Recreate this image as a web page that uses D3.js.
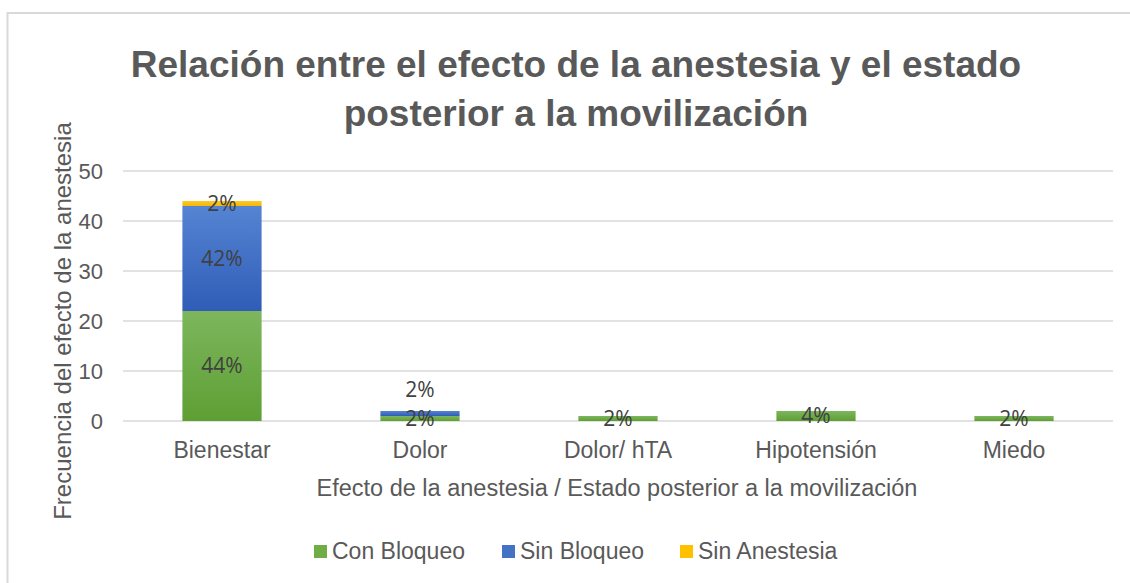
<!DOCTYPE html>
<html>
<head>
<meta charset="utf-8">
<script src="https://cdn.jsdelivr.net/npm/d3@7"></script>
<style>
  body { margin: 0; background: #fff; }
  text { font-family: "Liberation Sans", Arial, sans-serif; }
</style>
</head>
<body>
<div id="chart"></div>
<script>
// data (frequencies, n = 50)
var categories = ["Bienestar", "Dolor", "Dolor/ hTA", "Hipotensión", "Miedo"];
var seriesNames = ["Con Bloqueo", "Sin Bloqueo", "Sin Anestesia"];
var conBloqueo = [22, 1, 1, 2, 1];
var sinBloqueo = [21, 1, 0, 0, 0];
var sinAnestesia = [1, 0, 0, 0, 0];
var conLabels = ["44%", "2%", "2%", "4%", "2%"];
var sinBloqLabels = ["42%", "2%", "", "", ""];
var sinAnestLabels = ["2%", "", "", "", ""];
var yTicks = [0, 10, 20, 30, 40, 50];

var svgWidth = 1130, svgHeight = 583;
var margin = { top: 171, bottom: 162, left: 123, right: 17 };
var plotW = svgWidth - margin.left - margin.right;
var plotH = svgHeight - margin.top - margin.bottom;

var svg = d3.select("#chart").append("svg")
    .attr("width", svgWidth)
    .attr("height", svgHeight);

// gradients like the original office chart
var defs = svg.append("defs");
function grad(id, top, bottom) {
    var g = defs.append("linearGradient").attr("id", id)
        .attr("x1", 0).attr("y1", 0).attr("x2", 0).attr("y2", 1);
    g.append("stop").attr("offset", "0%").attr("stop-color", top);
    g.append("stop").attr("offset", "100%").attr("stop-color", bottom);
}
grad("gGreen", "#7db65d", "#5e9f34");
grad("gBlue", "#5584d3", "#2f5db7");
grad("gYellow", "#ffc72a", "#f5b800");

// chart frame
svg.append("rect")
    .attr("x", 7.5).attr("y", 13)
    .attr("width", 1140).attr("height", 600)
    .attr("fill", "none")
    .attr("stroke", "#d9d9d9")
    .attr("stroke-width", 2);

// title
var title = svg.append("text")
    .attr("text-anchor", "middle")
    .attr("font-size", 37)
    .attr("font-weight", "bold")
    .attr("fill", "#595959");
title.append("tspan").attr("x", 576).attr("y", 77)
    .text("Relación entre el efecto de la anestesia y el estado");
title.append("tspan").attr("x", 576).attr("y", 126)
    .text("posterior a la movilización");

var chartGroup = svg.append("g")
    .attr("transform", `translate(${margin.left}, ${margin.top})`);

var xScale = d3.scaleBand()
    .domain(categories)
    .range([0, plotW])
    .paddingInner(0.6)
    .paddingOuter(0.3);

var yScale = d3.scaleLinear()
    .domain([0, 50])
    .range([plotH, 0]);

// gridlines
chartGroup.selectAll(".grid")
    .data(yTicks)
    .enter().append("line")
    .attr("x1", 0).attr("x2", plotW)
    .attr("y1", d => yScale(d)).attr("y2", d => yScale(d))
    .attr("stroke", "#d9d9d9")
    .attr("stroke-width", 1.5);

// y axis
var yAxis = d3.axisLeft(yScale).tickValues(yTicks).tickSize(0).tickPadding(20);
var yG = chartGroup.append("g").call(yAxis);
yG.select(".domain").remove();
yG.selectAll("text")
    .attr("font-size", 22)
    .attr("fill", "#595959")
    .style("font-family", "'Liberation Sans', Arial, sans-serif");

// x axis
var xAxis = d3.axisBottom(xScale).tickSize(0).tickPadding(21);
var xG = chartGroup.append("g")
    .attr("transform", `translate(0, ${plotH})`)
    .call(xAxis);
xG.select(".domain").remove();
xG.selectAll("text")
    .attr("font-size", 23)
    .attr("fill", "#595959")
    .style("font-family", "'Liberation Sans', Arial, sans-serif");

// stacked bars
var table = categories.map(function(c, i) {
    return { cat: c, con: conBloqueo[i], sin: sinBloqueo[i], ane: sinAnestesia[i] };
});
var stack = d3.stack().keys(["con", "sin", "ane"])(table);
var fills = ["url(#gGreen)", "url(#gBlue)", "url(#gYellow)"];
var labelSets = [conLabels, sinBloqLabels, sinAnestLabels];

stack.forEach(function(layer, k) {
    chartGroup.append("g").selectAll("rect")
        .data(layer)
        .enter().append("rect")
        .attr("x", d => xScale(d.data.cat))
        .attr("width", xScale.bandwidth())
        .attr("y", d => yScale(d[1]))
        .attr("height", d => yScale(d[0]) - yScale(d[1]))
        .attr("fill", fills[k]);
});

// data labels
var lblGroup = chartGroup.append("g");
stack.forEach(function(layer, k) {
    layer.forEach(function(d, i) {
        var txt = labelSets[k][i];
        if (!txt) return;
        var mid = (yScale(d[0]) + yScale(d[1])) / 2;
        // Dolor's Sin Bloqueo label sits above the bar
        if (k === 1 && d[1] - d[0] < 3) mid = yScale(d[1]) - 21;
        lblGroup.append("text")
            .attr("x", xScale(d.data.cat) + xScale.bandwidth() / 2)
            .attr("y", mid)
            .attr("dy", "0.35em")
            .attr("text-anchor", "middle")
            .attr("font-size", 21)
            .attr("fill", "#404040")
            .style("font-family", "'Open Sans', sans-serif")
            .text(txt);
    });
});

// axis titles
svg.append("text")
    .attr("transform", "rotate(-90)")
    .attr("x", -321)
    .attr("y", 71)
    .attr("text-anchor", "middle")
    .attr("font-size", 24)
    .attr("fill", "#595959")
    .text("Frecuencia del efecto de la anestesia");

svg.append("text")
    .attr("x", 617)
    .attr("y", 496)
    .attr("text-anchor", "middle")
    .attr("font-size", 23.5)
    .attr("fill", "#595959")
    .text("Efecto de la anestesia / Estado posterior a la movilización");

// legend
var legendX = [314, 502, 680];
var legendColors = ["#70ad47", "#4472c4", "#ffc000"];
var legend = svg.append("g");
seriesNames.forEach(function(name, i) {
    legend.append("rect")
        .attr("x", legendX[i]).attr("y", 545)
        .attr("width", 13).attr("height", 13)
        .attr("fill", legendColors[i]);
    legend.append("text")
        .attr("x", legendX[i] + 18).attr("y", 559)
        .attr("font-size", 23)
        .attr("fill", "#595959")
        .text(name);
});
</script>
</body>
</html>
